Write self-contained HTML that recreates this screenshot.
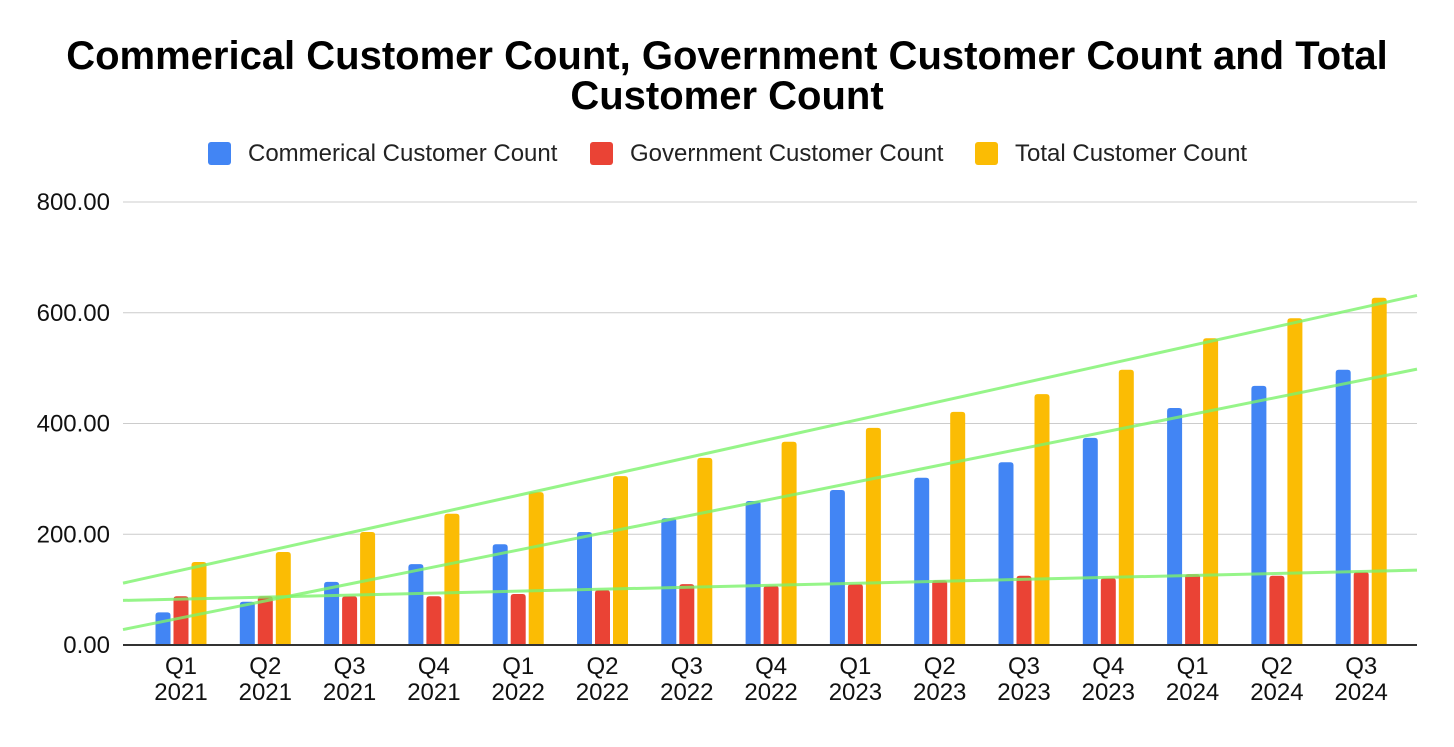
<!DOCTYPE html>
<html><head><meta charset="utf-8"><style>
body{margin:0;background:#fff;font-family:"Liberation Sans",sans-serif;}
</style></head><body>
<svg id="chart" width="1454" height="742" xmlns="http://www.w3.org/2000/svg" font-family="Liberation Sans, sans-serif">
<text x="727" y="69" text-anchor="middle" font-size="40" font-weight="bold">Commerical Customer Count, Government Customer Count and Total</text>
<text x="727" y="109" text-anchor="middle" font-size="40" font-weight="bold">Customer Count</text>
<g font-size="24" fill="#222">
<g><rect x="208" y="142" width="23" height="23" rx="3" fill="#4285f4"/><text x="248" y="161">Commerical Customer Count</text></g>
<g><rect x="590" y="142" width="23" height="23" rx="3" fill="#ea4335"/><text x="630" y="161">Government Customer Count</text></g>
<g><rect x="975" y="142" width="23" height="23" rx="3" fill="#fbbc04"/><text x="1015" y="161">Total Customer Count</text></g>
</g>
<g id="grid"></g><g id="bars"></g><g id="trends"></g><g id="xlabels"></g>
</svg>
<script>
const categories=["Q1|2021","Q2|2021","Q3|2021","Q4|2021","Q1|2022","Q2|2022","Q3|2022","Q4|2022","Q1|2023","Q2|2023","Q3|2023","Q4|2023","Q1|2024","Q2|2024","Q3|2024"];
const commercial=[59,78,114,146,182,204,229,260,280,302,330,374,428,468,497];
const government=[88,88,88,88,92,99,110,107,110,117,125,121,128,125,132];
const total=[150,168,204,237,276,305,338,367,392,421,453,497,554,590,627];
const yTicks=[0,200,400,600,800];
const NS="http://www.w3.org/2000/svg";
const y0=645,y1=202,yMax=800;
const y=v=>y0-(v/yMax)*(y0-y1);
const cx=i=>181+i*84.3;
const xi=px=>(px-181)/84.3;
function mk(tag,attrs,parent){const e=document.createElementNS(NS,tag);for(const k in attrs)e.setAttribute(k,attrs[k]);parent.appendChild(e);return e;}
const grid=document.getElementById('grid');
yTicks.forEach(t=>{
  const l=mk('line',{x1:123,x2:1417,y1:y(t),y2:y(t),stroke:t===0?'#333':'#ccc','stroke-width':t===0?2:1},grid);
  
  
  const tx=mk('text',{x:110,y:y(t)+8,'text-anchor':'end','font-size':24,fill:'#111'},grid);
  tx.textContent=t.toFixed(2);
  
  
});
const bars=document.getElementById('bars');
const series=[[commercial,'#4285f4','commercial',-18],[government,'#ea4335','government',0],[total,'#fbbc04','total',18]];
function barPath(x,w,top,bot){const r=Math.min(3,(bot-top)/2);return `M${x},${bot}V${top+r}Q${x},${top} ${x+r},${top}H${x+w-r}Q${x+w},${top} ${x+w},${top+r}V${bot}Z`;}
series.forEach(([vals,col,nm,off])=>{
  vals.forEach((v,i)=>{
    const p=mk('path',{d:barPath(cx(i)+off-7.5,15,y(v),y0-1),fill:col},bars);
    
    
  });
});
const trends=document.getElementById('trends');
series.forEach(([vals,col,nm])=>{
  const n=vals.length;let sx=0,sy=0,sxy=0,sxx=0;
  vals.forEach((v,i)=>{sx+=i;sy+=v;sxy+=i*v;sxx+=i*i;});
  const m=(n*sxy-sx*sy)/(n*sxx-sx*sx),b=(sy-m*sx)/n;
  const a=xi(123),c=xi(1417);
  const l=mk('line',{x1:123,x2:1417,y1:y(b+m*a),y2:y(b+m*c),stroke:'#7cf26b','stroke-width':3,'stroke-opacity':0.8},trends);
  
  
});
const xl=document.getElementById('xlabels');
categories.forEach((c,i)=>{
  const [q,yr]=c.split('|');
  const t=mk('text',{x:cx(i),y:674,'text-anchor':'middle','font-size':24,fill:'#111'},xl);
  t.textContent=q;
  
  
  const t2=mk('text',{x:cx(i),y:700,'text-anchor':'middle','font-size':24,fill:'#111'},xl);
  t2.textContent=yr;
  
  
});
</script>
</body></html>
